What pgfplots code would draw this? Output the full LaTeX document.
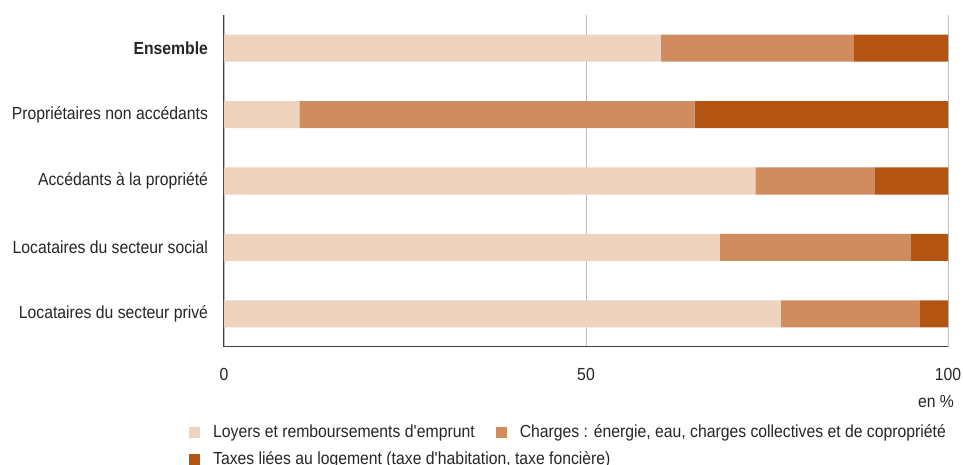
\documentclass[border=0pt]{standalone}
\usepackage{fontspec}
\setmainfont{Liberation Sans}[FakeStretch=0.9]
\usepackage{pgfplots}
\pgfplotsset{compat=1.18}
\definecolor{loyers}{RGB}{238,211,191}
\definecolor{charges}{RGB}{208,140,94}
\definecolor{taxes}{RGB}{179,84,18}
\definecolor{axisgray}{RGB}{60,60,60}
\newcommand{\lbl}{\fontsize{17.5}{20}\selectfont}
\begin{document}
\lbl
\begin{tikzpicture}
\path[use as bounding box] (-224pt,-118pt) rectangle (739pt,347pt);
\begin{axis}[
    at={(0pt,0pt)}, anchor=south west,
    scale only axis, width=724pt, height=332pt,
    xbar stacked, bar width=27pt,
    xmin=0, xmax=100, ymin=-0.5, ymax=4.5,
    axis lines=left, axis line style={-, axisgray, line width=1pt},
    xtick={0,50,100}, xticklabels={0,50,100},
    ytick={0,1,2,3,4},
    yticklabels={Locataires du secteur privé, Locataires du secteur social, Accédants à la propriété, Propriétaires non accédants, \textbf{Ensemble}},
    major tick length=0pt,
    xmajorgrids, major grid style={gray!50, line width=0.8pt},
    xticklabel style={yshift=-15pt},
    yticklabel style={xshift=-10pt},
    every tick label/.append style={font=\lbl, text=black!85},
    legend columns=2,
    legend cell align=left,
    legend style={at={(-0.0525,-0.222)}, anchor=north west, draw=none, fill=none,
        font=\lbl, text=black!85,
        /tikz/every even column/.append style={column sep=19pt},
        row sep=7pt},
    legend image code/.code={\fill[#1] (0pt,-5.5pt) rectangle (11pt,5.5pt); \path (22pt,0pt);},
    clip=false,
]
\addplot[fill=loyers, draw=none] coordinates {(76.9,0) (68.5,1) (73.4,2) (10.4,3) (60.3,4)};
\addplot[fill=charges, draw=none] coordinates {(19.2,0) (26.3,1) (16.5,2) (54.6,3) (26.7,4)};
\addplot[fill=taxes, draw=none] coordinates {(3.9,0) (5.2,1) (10.1,2) (35.0,3) (13.0,4)};
\legend{{Loyers et remboursements d\textquotesingle emprunt}, {Charges : énergie, eau, charges collectives et de copropriété}, {\rlap{Taxes liées au logement (taxe d\textquotesingle habitation, taxe foncière)}}}
\node[anchor=east, text=black!85, font=\lbl] at ([xshift=12pt,yshift=-55pt]rel axis cs:1,0) {en \%};
\end{axis}
\end{tikzpicture}
\end{document}
